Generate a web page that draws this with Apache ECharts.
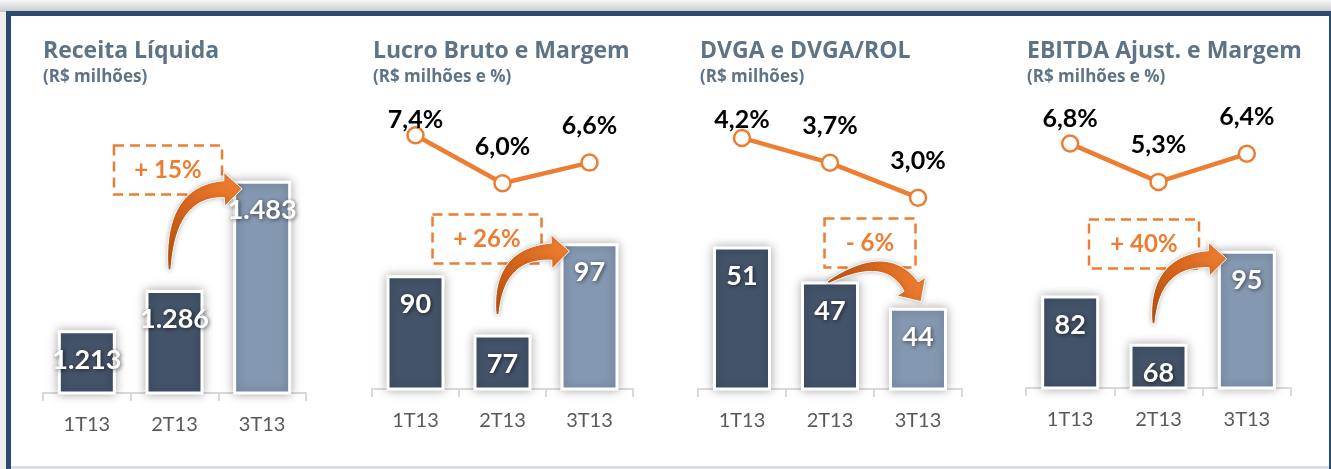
<!DOCTYPE html>
<html>
<head>
<meta charset="utf-8">
<title>Resultados 3T13</title>
<script src="https://cdn.jsdelivr.net/npm/echarts/dist/echarts.min.js"></script>
<style>
  html, body { margin: 0; padding: 0; background: #fff; }
  #chart { width: 1331px; height: 469px; }
</style>
</head>
<body>
<div id="chart"></div>
<script>
// dados
const categories = ['1T13', '2T13', '3T13']
const receita = [1213, 1286, 1483]
const lucroBruto = [90, 77, 97]
const margemBruta = [7.4, 6.0, 6.6]
const dvga = [51, 47, 44]
const dvgaRol = [4.2, 3.7, 3.0]
const ebitda = [82, 68, 95]
const margemEbitda = [6.8, 5.3, 6.4]
const growth = ['+ 15%', '+ 26%', '- 6%', '+ 40%']
const titles = ['Receita Líquida', 'Lucro Bruto e Margem', 'DVGA e DVGA/ROL', 'EBITDA Ajust. e Margem']
const subtitles = ['(R$ milhões)', '(R$ milhões e %)', '(R$ milhões)', '(R$ milhões e %)']

const DARK = '#435369'
const LIGHT = '#8498b1'
const ORANGE = '#ed7d31'
const TITLE = '#5e7385'
const FONT = 'Lato, "Open Sans", sans-serif'
const TITLE_FONT = '"Open Sans", Lato, sans-serif'

// layout of each panel (pixels / axis ranges)
const panels = [
  { left: 43, width: 263, top: 117, base: 393, bars: receita, barMin: 1100, barMax: 1598, titleLeft: 43 },
  { left: 372, width: 261, top: 117, base: 389, bars: lucroBruto, barMin: 65.1, barMax: 124.6, line: margemBruta, lineMin: 0, lineMax: 7.93, firstDrop: 22, titleLeft: 373 },
  { left: 698, width: 264, top: 117, base: 389, bars: dvga, barMin: 34.7, barMax: 65.8, line: dvgaRol, lineMin: -0.84, lineMax: 4.62, firstDrop: 19, titleLeft: 700 },
  { left: 1026, width: 265, top: 117, base: 388, bars: ebitda, barMin: 55.16, barMax: 133.8, line: margemEbitda, lineMin: -2.77, lineMax: 7.84, firstDrop: 12, titleLeft: 1027 }
]
const boxCenters = [[168, 170], [487, 239], [870, 243], [1144, 244]]
const boxWidths = [108, 109, 91, 110]

function milhar(v) {
  return String(v).replace(/\B(?=(\d{3})+(?!\d))/g, '.')
}
function pct(v) {
  return v.toFixed(1).replace('.', ',') + '%'
}

const chart = echarts.init(document.getElementById('chart'))

const grid = [], xAxis = [], yAxis = [], series = [], title = []
const barSeriesIdx = []

panels.forEach((p, i) => {
  title.push({
    text: titles[i],
    subtext: subtitles[i],
    left: p.titleLeft,
    top: 38,
    itemGap: 3,
    padding: 0,
    textStyle: { fontFamily: TITLE_FONT, fontSize: 23, fontWeight: 'bold', color: TITLE, lineHeight: 26 },
    subtextStyle: { fontFamily: TITLE_FONT, fontSize: 17, fontWeight: 'bold', color: TITLE, lineHeight: 20 }
  })
  grid.push({ left: p.left, width: p.width, top: p.top, height: p.base - p.top })
  xAxis.push({
    type: 'category',
    gridIndex: i,
    data: categories,
    axisLine: { onZero: false, lineStyle: { color: '#d9d9d9', width: 2 } },
    axisTick: { show: true, length: 8, lineStyle: { color: '#d9d9d9', width: 2 } },
    axisLabel: { color: '#595959', fontSize: 20, fontFamily: FONT, margin: 22 }
  })
  const barAxis = yAxis.length
  yAxis.push({ type: 'value', gridIndex: i, min: p.barMin, max: p.barMax, show: false, splitLine: { show: false } })

  barSeriesIdx.push(series.length)
  series.push({
    type: 'bar',
    xAxisIndex: i,
    yAxisIndex: barAxis,
    barWidth: 58,
    data: p.bars,
    itemStyle: {
      color: params => params.dataIndex === 2 ? LIGHT : DARK,
      borderColor: '#fff',
      borderWidth: 3,
      shadowBlur: 10,
      shadowColor: 'rgba(0,0,0,0.28)'
    },
    label: {
      show: true,
      position: 'insideTop',
      distance: 16,
      formatter: params => milhar(params.value),
      color: '#fff',
      fontFamily: FONT,
      fontSize: 27,
      fontWeight: 'bold',
      textShadowColor: 'rgba(0,0,0,0.6)',
      textShadowBlur: 4,
      textShadowOffsetX: 1,
      textShadowOffsetY: 1
    },
    z: 3
  })

  if (p.line) {
    const lineAxis = yAxis.length
    yAxis.push({ type: 'value', gridIndex: i, min: p.lineMin, max: p.lineMax, show: false, splitLine: { show: false } })
    series.push({
      type: 'line',
      xAxisIndex: i,
      yAxisIndex: lineAxis,
      data: p.line.map((v, k) => k === 0 ? { value: v, label: { offset: [0, p.firstDrop] } } : v),
      symbol: 'circle',
      symbolSize: 16,
      lineStyle: { color: ORANGE, width: 4.5 },
      itemStyle: { color: '#fff', borderColor: ORANGE, borderWidth: 2.5 },
      label: {
        show: true,
        position: 'top',
        distance: 15,
        formatter: params => pct(params.value),
        color: '#000',
        fontFamily: FONT,
        fontSize: 25,
        fontWeight: 'bold'
      },
      z: 4
    })
  }
})

chart.setOption({
  backgroundColor: '#fff',
  animation: false,
  title: title,
  grid: grid,
  xAxis: xAxis,
  yAxis: yAxis,
  series: series
})

// curved arrow as polygon (quadratic bezier shaft + head)
function arrowPoints(p0, c, tip, w0, w1, hl, hw) {
  let dx = tip[0] - c[0], dy = tip[1] - c[1]
  const L = Math.hypot(dx, dy)
  dx /= L; dy /= L
  const p1 = [tip[0] - dx * hl, tip[1] - dy * hl]
  const left = [], right = []
  for (let k = 0; k <= 30; k++) {
    const t = k / 30
    const x = (1 - t) * (1 - t) * p0[0] + 2 * (1 - t) * t * c[0] + t * t * p1[0]
    const y = (1 - t) * (1 - t) * p0[1] + 2 * (1 - t) * t * c[1] + t * t * p1[1]
    let tx = 2 * (1 - t) * (c[0] - p0[0]) + 2 * t * (p1[0] - c[0])
    let ty = 2 * (1 - t) * (c[1] - p0[1]) + 2 * t * (p1[1] - c[1])
    const tl = Math.hypot(tx, ty)
    tx /= tl; ty /= tl
    const w = (w0 + (w1 - w0) * Math.pow(t, 0.8)) / 2
    left.push([x - ty * w, y + tx * w])
    right.push([x + ty * w, y - tx * w])
  }
  const nx = -dy, ny = dx
  return left.concat([[p1[0] + nx * hw, p1[1] + ny * hw], tip, [p1[0] - nx * hw, p1[1] - ny * hw]], right.reverse())
}

const graphic = [
  // moldura
  { type: 'rect', shape: { x: 0, y: 0, width: 1331, height: 12 }, z: -10,
    style: { fill: new echarts.graphic.LinearGradient(0, 0, 0, 1, [{ offset: 0, color: '#f6f6f6' }, { offset: 1, color: '#c9c9c9' }]) } },
  { type: 'rect', shape: { x: 0, y: 12, width: 6, height: 457 }, z: -10, style: { fill: '#eeeeee' } },
  { type: 'rect', shape: { x: 6, y: 11, width: 1325, height: 5 }, z: -9, style: { fill: '#2c4a6d' } },
  { type: 'rect', shape: { x: 6, y: 11, width: 5, height: 458 }, z: -9, style: { fill: '#2c4a6d' } },
  { type: 'rect', shape: { x: 1329, y: 11, width: 2, height: 458 }, z: -9, style: { fill: '#2c4a6d' } },
  { type: 'rect', shape: { x: 11, y: 466, width: 1318, height: 3 }, z: -9, style: { fill: '#dcdce4' } }
]

panels.forEach((p, i) => {
  const si = barSeriesIdx[i]
  const b2 = chart.convertToPixel({ seriesIndex: si }, [1, p.bars[1]])
  const b3 = chart.convertToPixel({ seriesIndex: si }, [2, p.bars[2]])
  let p0, c, tip
  if (p.bars[2] >= p.bars[1]) {
    p0 = [b2[0] - 5, b2[1] - 20]
    tip = [b3[0] - 29 + 9, b3[1] + 8]
    c = [p0[0], tip[1] + 2]
  } else {
    p0 = [b2[0] - 2, b2[1] + 1]
    tip = [b3[0] + 3, b3[1] - 6]
    c = [(p0[0] + tip[0]) / 2 + 12, b2[1] - 33]
  }
  graphic.push({
    type: 'polygon',
    z: 10,
    shape: { points: arrowPoints(p0, c, tip, 2.5, 17, 18, 17) },
    style: {
      fill: new echarts.graphic.LinearGradient(0, 1, 1, 0, [
        { offset: 0, color: '#b9540f' },
        { offset: 0.55, color: '#d8681f' },
        { offset: 1, color: '#f48536' }
      ]),
      stroke: '#fff',
      lineWidth: 1,
      shadowBlur: 5,
      shadowColor: 'rgba(0,0,0,0.25)'
    }
  })
  const bc = boxCenters[i], bw = boxWidths[i]
  graphic.push({
    type: 'rect',
    z: 9,
    shape: { x: bc[0] - bw / 2, y: bc[1] - 24.5, width: bw, height: 49 },
    style: { fill: 'rgba(255,255,255,0.9)', stroke: ORANGE, lineWidth: 2.5, lineDash: [10, 6] }
  })
  graphic.push({
    type: 'text',
    z: 11,
    x: bc[0],
    y: bc[1],
    style: {
      text: growth[i],
      fill: ORANGE,
      font: 'bold 24px ' + FONT,
      align: 'center',
      verticalAlign: 'middle'
    }
  })
})

chart.setOption({ graphic: graphic })
</script>
</body>
</html>
